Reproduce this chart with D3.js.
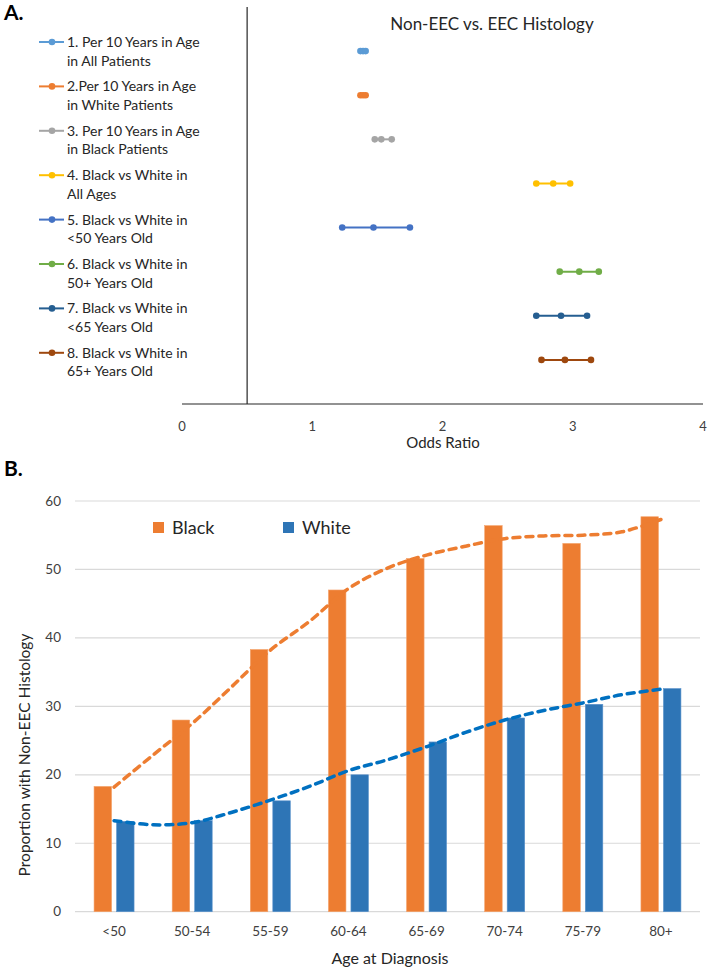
<!DOCTYPE html>
<html lang="en">
<head>
  <meta charset="UTF-8">
  <title>Non-EEC vs. EEC Histology</title>
  <script src="https://d3js.org/d3.v7.min.js"></script>
  <style>
    body { margin: 0; background: #fff; }
    svg text { font-family: Lato, "Open Sans", sans-serif; fill: #262626; }
    .tick-label { fill: #404040; }
  </style>
</head>
<body>
<svg id="chart" width="709" height="970"></svg>

<script>
  // ---- Panel A data (odds ratio with 95% CI) ----
  const groups = [
    ["1. Per 10 Years in Age", "in All Patients"],
    ["2.Per 10 Years in Age", "in White Patients"],
    ["3. Per 10 Years in Age", "in Black Patients"],
    ["4. Black vs White in", "All Ages"],
    ["5. Black vs White in", "<50 Years Old"],
    ["6. Black vs White in", "50+ Years Old"],
    ["7. Black vs White in", "<65 Years Old"],
    ["8. Black vs White in", "65+ Years Old"]
  ];
  const orLow  = [1.37, 1.37, 1.48, 2.72, 1.23, 2.90, 2.72, 2.76];
  const orMid  = [1.39, 1.39, 1.53, 2.85, 1.47, 3.05, 2.91, 2.94];
  const orHigh = [1.41, 1.41, 1.61, 2.98, 1.75, 3.20, 3.11, 3.14];
  const groupColors = ["#5B9BD5", "#ED7D31", "#A5A5A5", "#FFC000", "#4472C4", "#70AD47", "#255E91", "#9E480E"];
  const orTicks = [0, 1, 2, 3, 4];

  // ---- Panel B data ----
  const ageGroups = ["<50", "50-54", "55-59", "60-64", "65-69", "70-74", "75-79", "80+"];
  const blackPct = [18.3, 28.0, 38.3, 47.0, 51.6, 56.4, 53.8, 57.7];
  const whitePct = [13.2, 13.3, 16.2, 20.0, 24.8, 28.3, 30.3, 32.6];
  // trendlines at every half category
  const trendPos   = [0, 0.5, 1, 1.5, 2, 2.5, 3, 3.5, 4, 4.5, 5, 5.5, 6, 6.5, 7];
  const blackTrend = [18.2, 22.9, 27.5, 32.8, 38.2, 42.4, 47.2, 50.2, 52.1, 53.4, 54.5, 54.9, 55.0, 55.5, 57.3];
  const whiteTrend = [13.3, 12.7, 13.0, 14.5, 16.3, 18.3, 20.6, 22.2, 24.1, 26.2, 28.0, 29.4, 30.5, 31.7, 32.5];
  const pctTicks = [0, 10, 20, 30, 40, 50, 60];

  const svg = d3.select("#chart");

  // ================= Panel A =================
  const xA = d3.scaleLinear().domain([0, 4]).range([182, 703]);
  const yA = d3.scaleLinear().domain([0, 9]).range([7, 404]);

  svg.append("text").attr("x", 4).attr("y", 20)
    .style("font-size", "21px").style("font-weight", "bold").style("fill", "#000")
    .text("A.");

  svg.append("text").attr("x", 492).attr("y", 30).attr("text-anchor", "middle")
    .style("font-size", "17px")
    .text("Non-EEC vs. EEC Histology");

  // axes lines
  svg.append("line")
    .attr("x1", xA(0)).attr("x2", xA(4)).attr("y1", yA(9)).attr("y2", yA(9))
    .attr("stroke", "#262626").attr("stroke-width", 1.2);
  svg.append("line")
    .attr("x1", xA(0.5)).attr("x2", xA(0.5)).attr("y1", yA(0)).attr("y2", yA(9))
    .attr("stroke", "#262626").attr("stroke-width", 1.2);

  svg.selectAll(".or-tick").data(orTicks).enter().append("text")
    .attr("class", "tick-label")
    .attr("x", d => xA(d)).attr("y", 431).attr("text-anchor", "middle")
    .style("font-size", "13px")
    .text(d => d);

  svg.append("text").attr("x", 443).attr("y", 448).attr("text-anchor", "middle")
    .style("font-size", "15px")
    .text("Odds Ratio");

  // CI lines + markers
  const rows = svg.append("g").selectAll("g").data(groups).enter().append("g");
  rows.append("line")
    .attr("x1", (d, i) => xA(orLow[i])).attr("x2", (d, i) => xA(orHigh[i]))
    .attr("y1", (d, i) => yA(i + 1)).attr("y2", (d, i) => yA(i + 1))
    .attr("stroke", (d, i) => groupColors[i]).attr("stroke-width", 2);
  rows.each(function(d, i) {
    d3.select(this).selectAll("circle").data([orLow[i], orMid[i], orHigh[i]]).enter().append("circle")
      .attr("cx", v => xA(v)).attr("cy", yA(i + 1)).attr("r", 3.3)
      .attr("fill", groupColors[i]);
  });

  // legend
  const legA = svg.append("g").selectAll("g").data(groups).enter().append("g")
    .attr("transform", (d, i) => `translate(0,${42 + i * 44.4})`);
  legA.append("line").attr("x1", 39).attr("x2", 64).attr("y1", 0).attr("y2", 0)
    .attr("stroke", (d, i) => groupColors[i]).attr("stroke-width", 2);
  legA.append("circle").attr("cx", 52).attr("cy", 0).attr("r", 3.3)
    .attr("fill", (d, i) => groupColors[i]);
  legA.append("text").attr("x", 67).attr("y", 5).style("font-size", "14px").text(d => d[0]);
  legA.append("text").attr("x", 67).attr("y", 23.5).style("font-size", "14px").text(d => d[1]);

  // ================= Panel B =================
  const xB = d3.scaleBand().domain(ageGroups).range([75, 700]);
  const bw = xB.bandwidth();
  const xSub = d3.scaleBand().domain(["Black", "White"]).range([bw / 2 - 20, bw / 2 + 20]).paddingInner(0.222);
  const yB = d3.scaleLinear().domain([0, 60]).range([911.7, 501]);
  const xTrend = d3.scaleLinear().domain([0, 7])
    .range([xB(ageGroups[0]) + bw / 2, xB(ageGroups[7]) + bw / 2]);

  svg.append("text").attr("x", 4).attr("y", 476)
    .style("font-size", "21px").style("font-weight", "bold").style("fill", "#000")
    .text("B.");

  // gridlines
  svg.selectAll(".grid").data(pctTicks).enter().append("line")
    .attr("x1", 75).attr("x2", 700)
    .attr("y1", d => yB(d)).attr("y2", d => yB(d))
    .attr("stroke", "#d9d9d9").attr("stroke-width", 1.2);

  svg.selectAll(".pct-tick").data(pctTicks).enter().append("text")
    .attr("class", "tick-label")
    .attr("x", 61).attr("y", d => yB(d) + 4.5).attr("text-anchor", "end")
    .style("font-size", "13.5px")
    .text(d => d);

  svg.selectAll(".age-tick").data(ageGroups).enter().append("text")
    .attr("class", "tick-label")
    .attr("x", d => xB(d) + bw / 2).attr("y", 936).attr("text-anchor", "middle")
    .style("font-size", "13.5px")
    .text(d => d);

  svg.append("text").attr("x", 390).attr("y", 964).attr("text-anchor", "middle")
    .style("font-size", "16px")
    .text("Age at Diagnosis");

  svg.append("text")
    .attr("transform", "translate(30,755) rotate(-90)")
    .attr("text-anchor", "middle")
    .style("font-size", "15.5px")
    .text("Proportion with Non-EEC Histology");

  // bars
  const barG = svg.append("g");
  barG.selectAll(".bar-black").data(ageGroups).enter().append("rect")
    .attr("x", d => xB(d) + xSub("Black"))
    .attr("y", (d, i) => yB(blackPct[i]))
    .attr("width", xSub.bandwidth())
    .attr("height", (d, i) => yB(0) - yB(blackPct[i]))
    .attr("fill", "#ED7D31").attr("stroke", "#F4A26B").attr("stroke-width", 0.6);
  barG.selectAll(".bar-white").data(ageGroups).enter().append("rect")
    .attr("x", d => xB(d) + xSub("White"))
    .attr("y", (d, i) => yB(whitePct[i]))
    .attr("width", xSub.bandwidth())
    .attr("height", (d, i) => yB(0) - yB(whitePct[i]))
    .attr("fill", "#2E75B6").attr("stroke", "#5B93CC").attr("stroke-width", 0.6);

  // dashed trendlines
  const trendLine = vals => d3.line()
    .x((d, i) => xTrend(trendPos[i]))
    .y((d, i) => yB(vals[i]))
    .curve(d3.curveCatmullRom)(trendPos);

  svg.append("path").attr("d", trendLine(blackTrend))
    .attr("fill", "none").attr("stroke", "#ED7D31").attr("stroke-width", 3.5)
    .attr("stroke-dasharray", "7,6").attr("stroke-linecap", "round");
  svg.append("path").attr("d", trendLine(whiteTrend))
    .attr("fill", "none").attr("stroke", "#0070C0").attr("stroke-width", 3.5)
    .attr("stroke-dasharray", "7,6").attr("stroke-linecap", "round");

  // legend B
  const legB = [["Black", "#ED7D31", 153], ["White", "#2E75B6", 283]];
  legB.forEach(l => {
    svg.append("rect").attr("x", l[2]).attr("y", 522).attr("width", 11).attr("height", 11).attr("fill", l[1]);
    svg.append("text").attr("x", l[2] + 19).attr("y", 533.5).style("font-size", "18px").text(l[0]);
  });
</script>
</body>
</html>
